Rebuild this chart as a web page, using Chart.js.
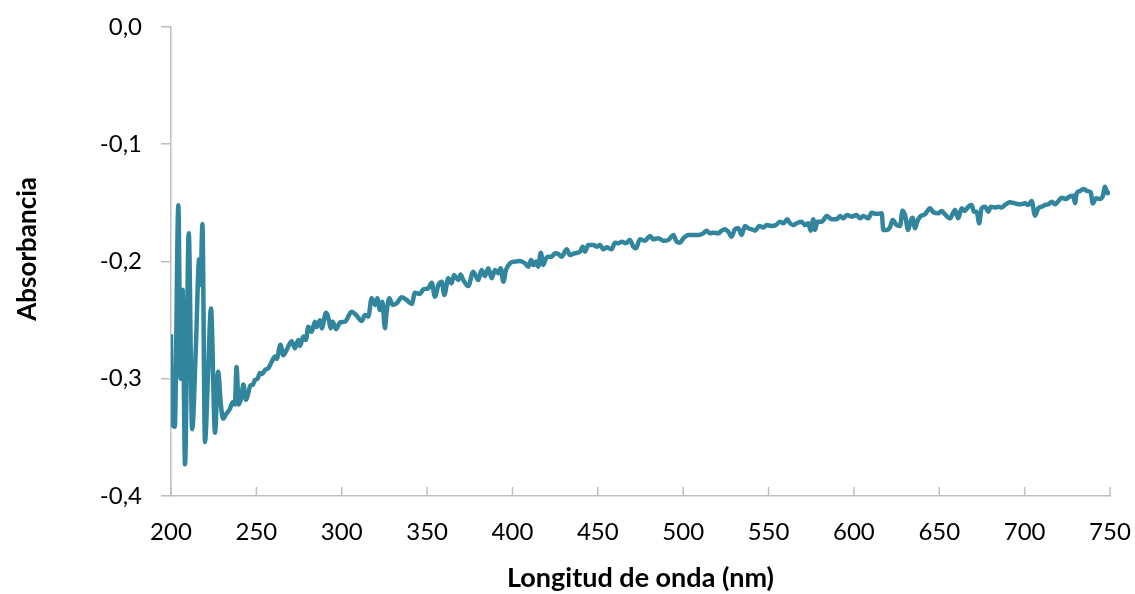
<!DOCTYPE html>
<html>
<head>
<meta charset="utf-8">
<script src="https://cdn.jsdelivr.net/npm/chart.js@4.4.1/dist/chart.umd.min.js"></script>
<style>
html,body{margin:0;padding:0;background:#fff;}
canvas{display:block;}
</style>
</head>
<body>
<canvas id="c" width="1135" height="594"></canvas>
<script>
const wavelength = [200.0,200.7,202.2,204.3,205.6,206.8,207.4,208.2,210.4,212.4,214.6,216.5,217.3,218.4,219.9,221.6,223.4,225.8,227.6,229.2,230.5,232.3,234.4,236.2,237.4,238.4,239.6,241.2,242.4,243.9,245.3,246.4,248.0,249.2,250.7,252.1,253.5,255.0,257.0,259.0,260.9,261.9,264.1,265.8,267.7,270.7,272.6,274.6,275.6,277.5,279.0,280.4,282.4,284.3,285.3,287.3,288.3,290.8,292.5,293.5,294.7,296.6,299.0,301.9,305.8,308.4,311.7,313.6,315.6,317.5,319.5,320.9,322.4,323.8,325.3,326.3,327.9,329.8,332.2,335.1,338.0,341.0,342.9,345.8,347.8,350.7,352.7,354.6,356.6,358.6,360.1,362.4,364.4,365.8,368.3,369.6,371.2,374.1,377.0,380.0,381.9,383.9,385.9,387.8,389.8,391.7,393.1,394.7,396.2,398.6,401.5,404.4,407.3,409.3,410.9,412.2,413.8,415.1,416.6,418.1,419.6,421.0,423.0,424.9,426.9,428.8,431.8,433.7,436.6,439.6,441.1,442.5,444.4,447.4,449.3,451.3,453.2,455.2,458.1,460.0,462.0,464.0,466.5,468.8,470.8,472.3,474.7,477.6,480.6,482.5,485.4,488.4,491.3,494.2,496.2,498.1,500.1,503.0,505.9,508.9,511.8,513.7,515.7,517.6,520.5,522.5,524.5,526.4,528.4,530.3,532.3,534.2,536.2,538.1,540.1,542.1,544.6,547.0,548.9,551.8,554.4,556.7,558.7,561.0,562.6,564.5,566.5,569.4,571.3,573.3,574.7,576.2,577.2,578.6,581.1,584.1,587.0,589.9,591.9,593.8,595.8,598.7,601.6,603.6,605.5,608.4,610.4,613.3,616.3,617.2,619.2,621.1,622.7,625.0,627.0,628.5,629.9,631.8,633.3,634.4,635.8,637.1,638.7,641.6,644.6,646.5,649.4,651.4,653.3,656.3,659.2,661.1,663.1,665.0,667.0,668.9,670.3,671.9,673.4,674.8,676.8,678.7,680.1,682.6,684.6,686.5,688.5,691.4,694.3,697.3,700.2,702.2,704.1,706.1,708.0,710.0,712.0,713.9,715.9,717.8,719.8,721.7,724.2,726.2,728.5,729.5,730.5,732.4,734.4,736.8,738.7,739.9,741.8,743.8,745.7,747.1,748.4,750.0];

const absorbance = [-0.262,-0.338,-0.341,-0.152,-0.300,-0.224,-0.290,-0.373,-0.176,-0.343,-0.272,-0.198,-0.220,-0.168,-0.354,-0.300,-0.240,-0.346,-0.294,-0.322,-0.334,-0.330,-0.326,-0.320,-0.322,-0.290,-0.322,-0.316,-0.305,-0.318,-0.312,-0.306,-0.305,-0.301,-0.300,-0.295,-0.296,-0.2925,-0.291,-0.2855,-0.281,-0.283,-0.271,-0.280,-0.2755,-0.268,-0.274,-0.267,-0.272,-0.264,-0.267,-0.2556,-0.260,-0.2513,-0.256,-0.250,-0.257,-0.2437,-0.250,-0.257,-0.2513,-0.2578,-0.252,-0.2513,-0.2428,-0.2456,-0.2507,-0.2456,-0.247,-0.2314,-0.237,-0.2314,-0.2414,-0.2343,-0.257,-0.2428,-0.2314,-0.2371,-0.2357,-0.2305,-0.2328,-0.2362,-0.2266,-0.2277,-0.2237,-0.2229,-0.2181,-0.230,-0.220,-0.2172,-0.2286,-0.2143,-0.2186,-0.2115,-0.2158,-0.2110,-0.2158,-0.221,-0.2087,-0.2158,-0.2072,-0.2124,-0.2058,-0.2143,-0.2072,-0.210,-0.2058,-0.2172,-0.2072,-0.2015,-0.2001,-0.1996,-0.2015,-0.2044,-0.1987,-0.203,-0.2001,-0.2044,-0.1925,-0.203,-0.1973,-0.1959,-0.1959,-0.193,-0.1936,-0.1959,-0.1896,-0.1945,-0.193,-0.1916,-0.1874,-0.1916,-0.1859,-0.1859,-0.1874,-0.1859,-0.1896,-0.1879,-0.1896,-0.184,-0.1845,-0.1831,-0.1845,-0.1817,-0.1874,-0.1888,-0.181,-0.1823,-0.1783,-0.181,-0.1802,-0.1823,-0.1817,-0.1774,-0.1831,-0.184,-0.1802,-0.1774,-0.1774,-0.1774,-0.176,-0.1737,-0.176,-0.1754,-0.176,-0.1737,-0.1725,-0.1746,-0.1788,-0.1725,-0.1717,-0.1774,-0.1697,-0.1717,-0.1725,-0.1737,-0.1697,-0.1709,-0.1689,-0.1697,-0.1689,-0.166,-0.1674,-0.164,-0.1674,-0.1689,-0.1674,-0.166,-0.1689,-0.1674,-0.1737,-0.164,-0.1731,-0.166,-0.166,-0.1612,-0.164,-0.164,-0.1612,-0.1632,-0.1603,-0.1618,-0.1603,-0.1632,-0.1612,-0.1632,-0.1584,-0.1595,-0.1589,-0.1731,-0.1731,-0.1709,-0.1646,-0.1689,-0.1697,-0.1567,-0.1603,-0.1731,-0.1650,-0.1626,-0.1717,-0.166,-0.1618,-0.1597,-0.1546,-0.158,-0.1589,-0.1569,-0.1597,-0.1632,-0.1561,-0.1632,-0.1546,-0.1569,-0.1533,-0.1518,-0.1575,-0.1575,-0.1674,-0.1546,-0.1533,-0.1575,-0.1533,-0.154,-0.1533,-0.154,-0.1518,-0.1495,-0.1504,-0.1512,-0.1504,-0.1518,-0.1484,-0.1609,-0.1546,-0.1533,-0.1518,-0.1512,-0.149,-0.1512,-0.1484,-0.1456,-0.1467,-0.1447,-0.1439,-0.1504,-0.1418,-0.1399,-0.1382,-0.1399,-0.141,-0.1504,-0.1461,-0.1467,-0.1447,-0.1362,-0.1418,-0.1405];

const xRange = [200, 750];
const xStep = 50;
const yRange = [-0.4, 0.0];
const yStep = 0.1;
const xTitle = 'Longitud de onda (nm)';
const yTitle = 'Absorbancia';

const points = wavelength.map((w, i) => ({x: w, y: absorbance[i]}));

const AXIS_COLOR = '#BFBFBF';

const insideTicks = {
  id: 'insideTicks',
  beforeDatasetsDraw(chart) {
    const xs = chart.scales.x;
    const ctx = chart.ctx;
    ctx.save();
    ctx.strokeStyle = AXIS_COLOR;
    ctx.lineWidth = 1.5;
    xs.ticks.forEach(t => {
      const px = xs.getPixelForValue(t.value);
      ctx.beginPath();
      ctx.moveTo(px, xs.top);
      ctx.lineTo(px, xs.top - 9);
      ctx.stroke();
    });
    ctx.restore();
  }
};

new Chart(document.getElementById('c'), {
  type: 'line',
  data: {
    datasets: [{
      data: points,
      borderColor: '#31859C',
      borderWidth: 4.5,
      pointRadius: 0,
      cubicInterpolationMode: 'monotone',
      fill: false
    }]
  },
  options: {
    responsive: false,
    animation: false,
    layout: {padding: {top: 27, right: 25, bottom: 0, left: 0}},
    plugins: {legend: {display: false}, tooltip: {enabled: false}},
    scales: {
      x: {
        type: 'linear',
        min: xRange[0], max: xRange[1],
        afterFit(s) { s.height = 98; s.paddingLeft = 0; s.paddingRight = 0; },
        grid: {drawOnChartArea: false, drawTicks: false},
        border: {color: AXIS_COLOR, width: 1.5},
        ticks: {
          stepSize: xStep,
          padding: 22,
          color: '#000',
          font: {family: 'Lato', size: 24},
          maxRotation: 0
        },
        title: {
          display: true, text: xTitle, color: '#000',
          font: {family: 'Lato', size: 27, weight: 'bold'},
          padding: {top: 0, bottom: 0}
        }
      },
      y: {
        min: yRange[0], max: yRange[1],
        afterFit(s) { s.width = 171; s.paddingTop = 0; s.paddingBottom = 0; },
        grid: {drawOnChartArea: false, drawTicks: true, tickLength: 10, color: AXIS_COLOR, lineWidth: 1.5},
        border: {color: AXIS_COLOR, width: 1.5},
        ticks: {
          stepSize: yStep,
          padding: 19,
          color: '#000',
          font: {family: 'Lato', size: 24},
          callback: v => {
            const r = Math.round(v * 10) / 10;
            return (r === 0 ? 0 : r).toFixed(1).replace('.', ',');
          }
        },
        title: {
          display: true, text: '    ' + yTitle, color: '#000',
          font: {family: 'Lato', size: 26, weight: 'bold'},
          padding: {top: 12, bottom: 0}
        }
      }
    }
  },
  plugins: [insideTicks]
});
</script>
</body>
</html>
